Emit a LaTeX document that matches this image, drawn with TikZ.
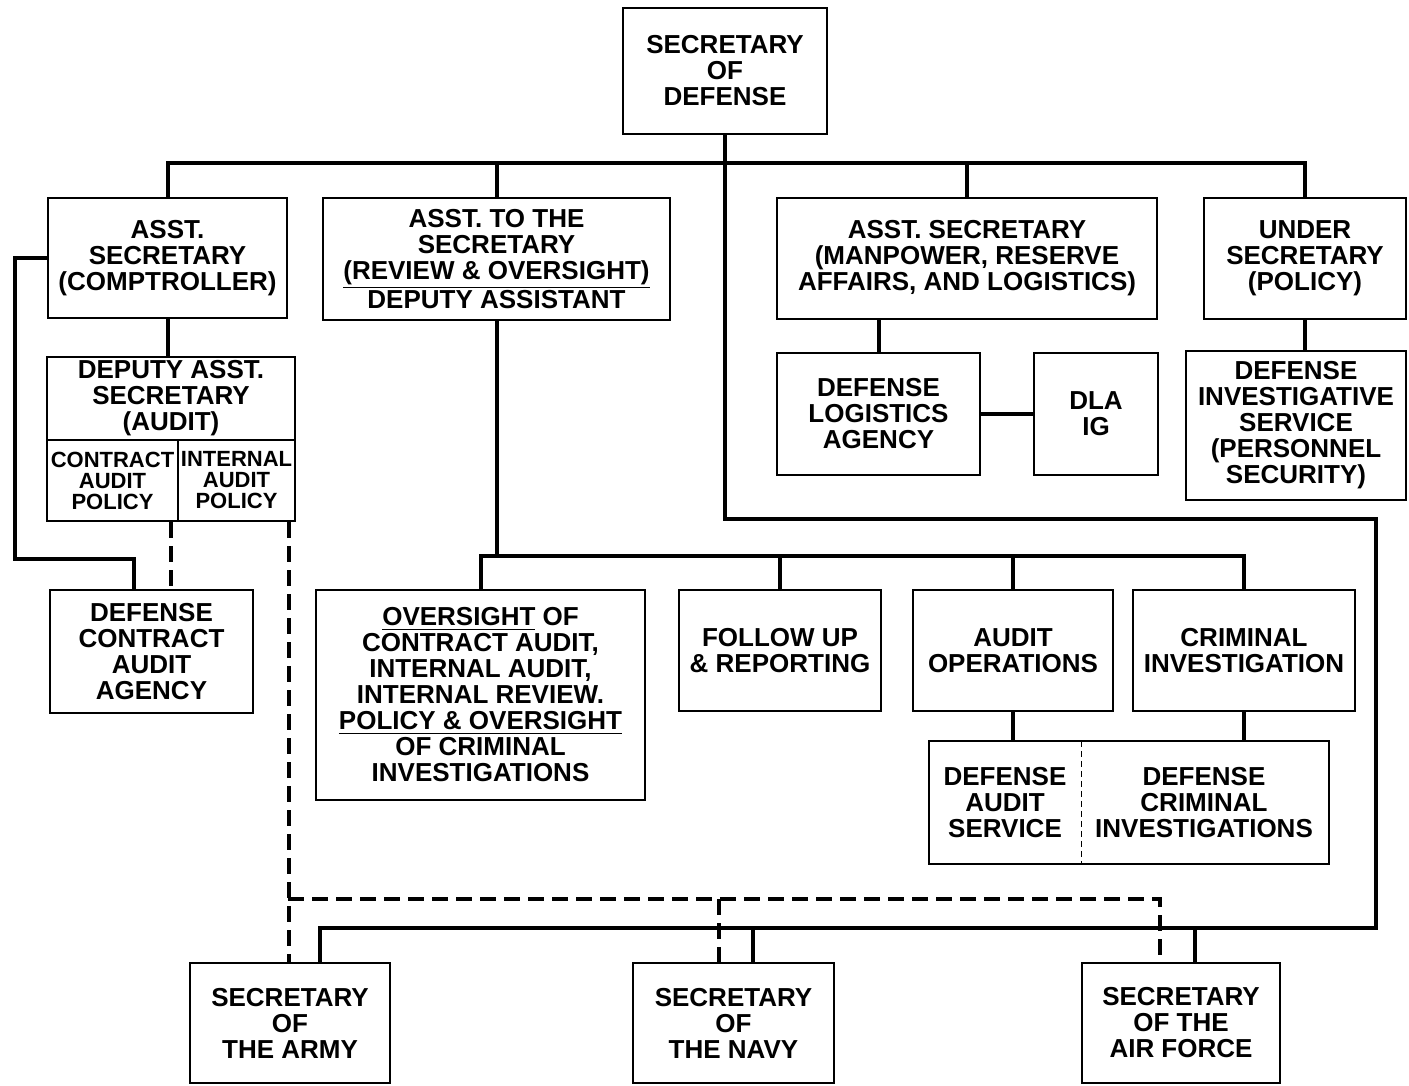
\documentclass[tikz,border=0pt]{standalone}
\usepackage{fontspec}
\setmainfont{Liberation Sans}
\newcommand\orgbox[6][box]{\node[#1, minimum width={(#5-#3)*0.5pt}, minimum height={(#6-#4)*0.5pt}] (#2) at ({(#3+#5)/2},{(#4+#6)/2})}
\begin{document}
\begin{tikzpicture}[x=0.5pt,y=-0.5pt,
  box/.style={draw, line width=1.1pt, inner sep=0pt, align=center,
    font=\bfseries\fontsize{13}{13}\selectfont},
  plain/.style={box, draw=none},
  sbox/.style={box, font=\bfseries\fontsize{11}{10.5}\selectfont},
  con/.style={line width=2pt},
  dcon/.style={line width=2pt, dash pattern=on 8pt off 4pt},
  divider/.style={line width=0.6pt, dash pattern=on 3pt off 2pt}]
\useasboundingbox (0,0) rectangle (1409,1086);

% ---------- boxes ----------
\orgbox{sd}{623}{8}{827}{134} {SECRETARY\\OF\\DEFENSE};
\orgbox{comp}{48}{198}{287}{318} {ASST.\\SECRETARY\\(COMPTROLLER)};
\orgbox{ats}{323}{198}{670}{320} {ASST. TO THE\\SECRETARY\\\underline{(REVIEW \& OVERSIGHT)}\\DEPUTY ASSISTANT};
\orgbox{mp}{777}{198}{1157}{319} {ASST. SECRETARY\\(MANPOWER, RESERVE\\AFFAIRS, AND LOGISTICS)};
\orgbox{us}{1204}{198}{1406}{319} {UNDER\\SECRETARY\\(POLICY)};

\orgbox{dep}{47}{357}{295}{440} {DEPUTY ASST.\\SECRETARY\\(AUDIT)};
\orgbox[sbox]{cap}{47}{440}{178}{521} {CONTRACT\\AUDIT\\POLICY};
\orgbox[sbox]{iap}{178}{440}{295}{521} {INTERNAL\\AUDIT\\POLICY};

\orgbox{dla}{777}{353}{980}{475} {DEFENSE\\LOGISTICS\\AGENCY};
\orgbox{dlaig}{1034}{353}{1158}{475} {DLA\\IG};
\orgbox{dis}{1186}{351}{1406}{500} {DEFENSE\\INVESTIGATIVE\\SERVICE\\(PERSONNEL\\SECURITY)};

\orgbox{dcaa}{50}{590}{253}{713} {DEFENSE\\CONTRACT\\AUDIT\\AGENCY};
\orgbox{ov}{316}{590}{645}{800} {\underline{OVERSIGHT} OF\\CONTRACT AUDIT,\\INTERNAL AUDIT,\\INTERNAL REVIEW.\\\underline{POLICY \& OVERSIGHT}\\OF CRIMINAL\\INVESTIGATIONS};
\orgbox{fu}{679}{590}{881}{711} {FOLLOW UP\\\& REPORTING};
\orgbox{ao}{913}{590}{1113}{711} {AUDIT\\OPERATIONS};
\orgbox{ci}{1133}{590}{1355}{711} {CRIMINAL\\INVESTIGATION};

\orgbox[plain]{das}{930}{742}{1080}{863} {DEFENSE\\AUDIT\\SERVICE};
\orgbox[plain]{dci}{1080}{742}{1328}{863} {DEFENSE\\CRIMINAL\\INVESTIGATIONS};
\draw[line width=1.1pt] (das.north west) rectangle (dci.south east);
\draw[divider] (das.north east) -- (das.south east);

\orgbox{army}{190}{963}{390}{1083} {SECRETARY\\OF\\THE ARMY};
\orgbox{navy}{633}{963}{834}{1083} {SECRETARY\\OF\\THE NAVY};
\orgbox{af}{1082}{963}{1280}{1083} {SECRETARY\\OF THE\\AIR FORCE};

% ---------- bus coordinates ----------
\coordinate (tb) at (0,163);
\coordinate (lb) at (0,556);
\coordinate (rl) at (1376,519);
\coordinate (rb) at (1376,928);
\coordinate (db1) at (288,899);
\coordinate (db2) at (1160,899);
\coordinate (ndb) at (719,899);

% ---------- solid connectors ----------
\draw[con] (comp.north) -- (comp.north |- tb) -- (us.north |- tb) -- (us.north);
\draw[con] (ats.north) -- (ats.north |- tb);
\draw[con] (mp.north) -- (mp.north |- tb);
\draw[con] (sd.south) |- (rl) -- (rb) -| ([xshift=15pt]army.north);
\draw[con] ([xshift=9.75pt]navy.north) -- ([xshift=9.75pt]navy.north |- rb);
\draw[con] ([xshift=7pt]af.north) -- ([xshift=7pt]af.north |- rb);

\draw[con] (comp.south) -- (comp.south |- dep.north);
\draw[con] (comp.west) -| (15,559) -| ([xshift=42.5pt]dcaa.north west);

\draw[con] (dla.north) -- (dla.north |- mp.south);
\draw[con] (dla.east) -- (dlaig.west);
\draw[con] (us.south) -- (us.south |- dis.north);

\draw[con] (ats.south) -- (ats.south |- lb);
\draw[con] (ov.north) |- (ci.north |- lb) -- (ci.north);
\draw[con] (fu.north) -- (fu.north |- lb);
\draw[con] (ao.north) -- (ao.north |- lb);
\draw[con] (ao.south) -- (ao.south |- das.north);
\draw[con] (ci.south) -- (ci.south |- dci.north);

% ---------- dashed connectors ----------
\coordinate (c1) at ([xshift=-4pt]cap.south east);
\draw[dcon] (c1) -- (c1 |- dcaa.north);
\coordinate (c2) at ([xshift=-3.5pt]iap.south east);
\draw[dcon] (c2) -- (c2 |- army.north);
\draw[dcon] (db1) -- (db2) -- (db2 |- af.north);
\draw[dcon] (ndb) -- (ndb |- navy.north);
\end{tikzpicture}
\end{document}
